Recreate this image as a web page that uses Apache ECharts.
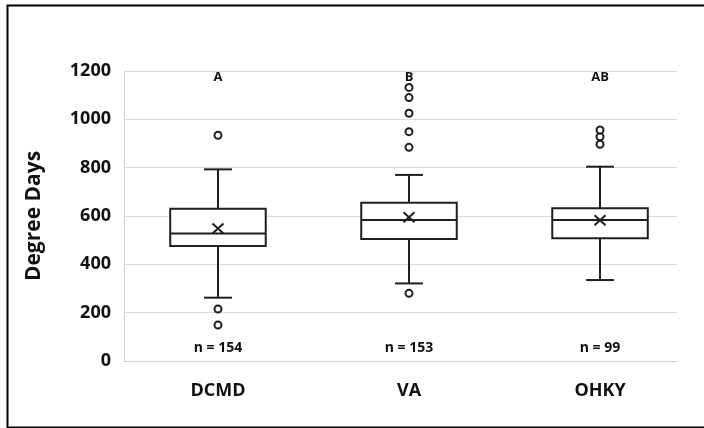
<!DOCTYPE html>
<html>
<head>
<meta charset="utf-8">
<script src="https://cdn.jsdelivr.net/npm/echarts@6/dist/echarts.min.js"></script>
<style>
  html, body { margin: 0; padding: 0; background: #ffffff; }
  #chart { width: 704px; height: 428px; }
</style>
</head>
<body>
<div id="chart"></div>
<script>
// Degree-day distributions by region
const regions = ['DCMD', 'VA', 'OHKY'];
const whiskerLow = [262, 321, 335];
const quartile1 = [476, 505, 508];
const medians = [528, 583, 583];
const quartile3 = [630, 655, 632];
const whiskerHigh = [793, 770, 804];
const means = [548, 595, 582];
const outliers = [
  [215, 149, 934],
  [280, 884, 949, 1025, 1090, 1132],
  [897, 928, 956]
];
const groupLetters = ['A', 'B', 'AB'];
const sampleSizes = [154, 153, 99];
const letterLevel = 1175;
const countLevel = 54;

const FONT = '"Open Sans", "Noto Sans", sans-serif';
const INK = '#1f1f1f';

// x positions: region i sits at i + 1 on the value axis
const boxData = regions.map((r, i) => [i + 1, whiskerLow[i], quartile1[i], medians[i], quartile3[i], whiskerHigh[i], means[i]]);
const outlierData = [];
outliers.forEach((list, i) => list.forEach(v => outlierData.push([i + 1, v])));
const letterData = groupLetters.map((t, i) => [i + 1, letterLevel, t]);
const countData = sampleSizes.map((n, i) => [i + 1, countLevel, 'n = ' + n]);

function renderBox(params, api) {
  const x = api.value(0);
  const pLow = api.coord([x, api.value(1)]);
  const pQ1 = api.coord([x, api.value(2)]);
  const pMed = api.coord([x, api.value(3)]);
  const pQ3 = api.coord([x, api.value(4)]);
  const pHigh = api.coord([x, api.value(5)]);
  const pMean = api.coord([x, api.value(6)]);
  const unit = api.size([1, 0])[0];
  const cx = pMed[0];
  const half = unit * 0.25;
  const cap = unit * 0.073;
  const mx = 5.5, my = 5;
  const line = { stroke: INK, lineWidth: 2, fill: null };
  return {
    type: 'group',
    children: [
      { type: 'line', shape: { x1: cx, y1: pHigh[1], x2: cx, y2: pQ3[1] }, style: line },
      { type: 'line', shape: { x1: cx, y1: pQ1[1], x2: cx, y2: pLow[1] }, style: line },
      { type: 'line', shape: { x1: cx - cap, y1: pHigh[1], x2: cx + cap, y2: pHigh[1] }, style: line },
      { type: 'line', shape: { x1: cx - cap, y1: pLow[1], x2: cx + cap, y2: pLow[1] }, style: line },
      { type: 'rect', shape: { x: cx - half, y: pQ3[1], width: half * 2, height: pQ1[1] - pQ3[1] },
        style: { fill: '#ffffff', stroke: INK, lineWidth: 2 } },
      { type: 'line', shape: { x1: cx - half, y1: pMed[1], x2: cx + half, y2: pMed[1] }, style: line },
      { type: 'line', shape: { x1: cx - mx, y1: pMean[1] - my, x2: cx + mx, y2: pMean[1] + my }, style: line },
      { type: 'line', shape: { x1: cx - mx, y1: pMean[1] + my, x2: cx + mx, y2: pMean[1] - my }, style: line }
    ]
  };
}

const textLabel = size => ({
  show: true, position: 'inside', formatter: p => p.value[2],
  color: '#111111', fontFamily: FONT, fontWeight: 'bold', fontSize: size
});

const chart = echarts.init(document.getElementById('chart'), null, { renderer: 'canvas' });
chart.setOption({
  backgroundColor: '#ffffff',
  animation: false,
  graphic: [{
    type: 'rect', left: 5, top: 3, silent: true,
    shape: { width: 720, height: 422 },
    style: { fill: null, stroke: '#000000', lineWidth: 2 }
  }],
  grid: { left: 124, top: 71, width: 553, height: 290, containLabel: false },
  xAxis: {
    type: 'value',
    min: 0.508,
    max: 3.403,
    axisLine: { show: true, lineStyle: { color: '#d0d0d0', width: 1 } },
    axisTick: { show: false },
    splitLine: { show: false },
    axisLabel: {
      customValues: [1, 2, 3],
      formatter: v => regions[Math.round(v) - 1] || '',
      color: '#111111',
      fontFamily: FONT,
      fontWeight: 'bold',
      fontSize: 18,
      margin: 21
    }
  },
  yAxis: {
    type: 'value',
    min: 0,
    max: 1200,
    interval: 200,
    name: 'Degree Days',
    nameLocation: 'middle',
    nameGap: 79,
    nameTextStyle: { color: '#111111', fontFamily: FONT, fontWeight: 'bold', fontSize: 21 },
    axisLine: { show: true, lineStyle: { color: '#d0d0d0', width: 1 } },
    axisTick: { show: false },
    axisLabel: {
      formatter: v => String(v),
      color: '#111111', fontFamily: FONT, fontWeight: 'bold', fontSize: 18, margin: 13
    },
    splitLine: { show: true, lineStyle: { color: '#d9d9d9', width: 1 } }
  },
  series: [
    {
      type: 'custom',
      renderItem: renderBox,
      data: boxData,
      encode: { x: 0, y: [1, 2, 3, 4, 5, 6] },
      z: 3
    },
    {
      type: 'scatter',
      data: outlierData,
      symbol: 'circle',
      symbolSize: 7,
      itemStyle: { color: '#ffffff', borderColor: INK, borderWidth: 2, opacity: 1 },
      z: 4
    },
    {
      type: 'scatter',
      data: letterData,
      symbolSize: 0,
      itemStyle: { opacity: 1 },
      label: textLabel(13),
      z: 5
    },
    {
      type: 'scatter',
      data: countData,
      symbolSize: 0,
      itemStyle: { opacity: 1 },
      label: textLabel(14),
      z: 5
    }
  ]
});
</script>
</body>
</html>
